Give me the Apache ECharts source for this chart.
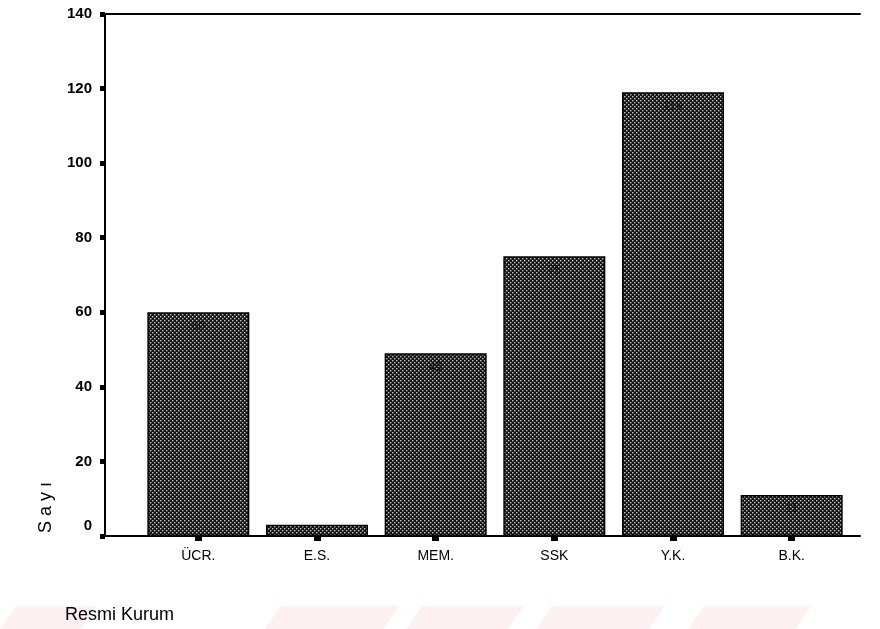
<!DOCTYPE html>
<html>
<head>
<meta charset="utf-8">
<script src="https://cdn.jsdelivr.net/npm/echarts@6/dist/echarts.min.js"></script>
<style>
  html, body { margin: 0; padding: 0; background: #fff; }
  #chart { width: 880px; height: 629px; }
</style>
</head>
<body>
<div id="chart"></div>
<script>
// Kurum bazında kişi sayıları
const categories = ['ÜCR.', 'E.S.', 'MEM.', 'SSK', 'Y.K.', 'B.K.'];
const counts = [60, 3, 49, 75, 119, 11];
const yTicks = [0, 20, 40, 60, 80, 100, 120, 140];

// Dotted halftone fill for the bars
function dotPattern() {
  const c = document.createElement('canvas');
  c.width = 4; c.height = 4;
  const g = c.getContext('2d');
  g.fillStyle = '#141414';
  g.fillRect(0, 0, 4, 4);
  g.fillStyle = '#c4c4c4';
  g.fillRect(0, 0, 1.4, 1.4);
  g.fillRect(2, 2, 1.4, 1.4);
  return c;
}

const chart = echarts.init(document.getElementById('chart'), null, { renderer: 'canvas' });
const font = '"Liberation Sans", Arial, sans-serif';

// Faint diagonal stripes along the bottom edge
const stripes = [[0, 80], [265, 383], [406, 508], [536, 649], [688, 795]].map(([a, b]) => ({
  type: 'polygon',
  silent: true,
  z: -10,
  shape: { points: [[a + 16, 606], [b + 16, 606], [b, 629], [a, 629]] },
  style: { fill: '#fdf0f2' }
}));

chart.setOption({
  animation: false,
  backgroundColor: '#fff',
  grid: [
    { left: 139, right: 29, top: 14, bottom: 93 },
    { left: 105, right: 20, top: 14, bottom: 93 }
  ],
  xAxis: [
    {
      type: 'category',
      gridIndex: 0,
      data: categories,
      axisLine: { show: false },
      axisTick: { show: true, alignWithLabel: true, length: 5, lineStyle: { color: '#000', width: 7 } },
      axisLabel: { color: '#000', fontSize: 14, fontFamily: font, margin: 13 },
      splitLine: { show: false }
    },
    {
      type: 'value',
      gridIndex: 1,
      position: 'bottom',
      min: 0, max: 1,
      axisLine: { show: true, onZero: false, lineStyle: { color: '#000', width: 2 } },
      axisTick: { show: false },
      axisLabel: { show: false },
      splitLine: { show: false }
    },
    {
      type: 'value',
      gridIndex: 1,
      position: 'top',
      min: 0, max: 1,
      axisLine: { show: true, onZero: false, lineStyle: { color: '#000', width: 2 } },
      axisTick: { show: false },
      axisLabel: { show: false },
      splitLine: { show: false }
    }
  ],
  yAxis: [
    {
      type: 'value',
      gridIndex: 0,
      min: yTicks[0],
      max: yTicks[yTicks.length - 1],
      interval: 20,
      offset: 34,
      axisLine: { show: true, onZero: false, lineStyle: { color: '#000', width: 2 } },
      axisTick: { show: true, length: 5, lineStyle: { color: '#000', width: 5 } },
      axisLabel: {
        color: '#000', fontSize: 15, fontWeight: 'bold', fontFamily: font, margin: 13,
        // the zero label sits a little above its tick
        formatter: v => (v === 0 ? '{z|0}' : String(v)),
        rich: { z: { fontSize: 15, fontWeight: 'bold', fontFamily: font, color: '#000', padding: [0, 0, 20, 0] } }
      },
      splitLine: { show: false }
    },
    {
      type: 'value',
      gridIndex: 1,
      show: false,
      min: 0, max: 1
    }
  ],
  series: [{
    type: 'bar',
    xAxisIndex: 0,
    yAxisIndex: 0,
    data: counts,
    barWidth: 102,
    itemStyle: {
      color: { image: dotPattern(), repeat: 'repeat' },
      borderColor: '#000',
      borderWidth: 1.5
    },
    label: {
      show: true,
      position: 'insideTop',
      distance: 8,
      color: '#111',
      fontSize: 12,
      fontFamily: font,
      formatter: p => (p.value >= 8 ? String(p.value) : '')
    }
  }],
  graphic: [
    ...stripes,
    {
      type: 'text',
      x: 46, y: 533,
      rotation: Math.PI / 2,
      style: {
        text: 'S a y ı',
        fill: '#000',
        font: '18px "Liberation Sans", Arial, sans-serif',
        textAlign: 'left',
        textVerticalAlign: 'middle'
      }
    },
    {
      type: 'text',
      x: 65, y: 615,
      style: {
        text: 'Resmi Kurum',
        fill: '#000',
        font: '18px "Liberation Sans", Arial, sans-serif',
        textAlign: 'left',
        textVerticalAlign: 'middle',
        letterSpacing: 0.5
      }
    }
  ]
});
</script>
</body>
</html>
